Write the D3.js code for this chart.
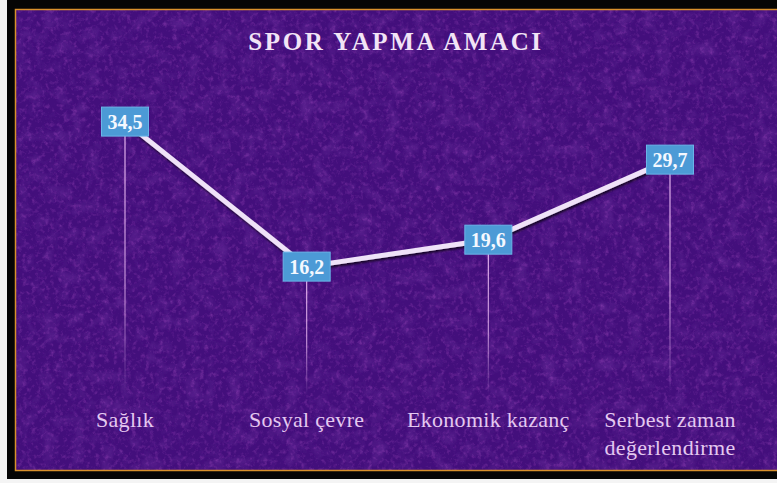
<!DOCTYPE html>
<html>
<head>
<meta charset="utf-8">
<script src="https://cdn.jsdelivr.net/npm/d3@7"></script>
<style>
  body { margin: 0; background: #f4f4f4; }
  svg { display: block; }
</style>
</head>
<body>
<div id="chart"></div>
<script>
// Spor yapma amacı - line chart with value boxes

var categories = ["Sağlık", "Sosyal çevre", "Ekonomik kazanç", "Serbest zaman\ndeğerlendirme"];
var values = [34.5, 16.2, 19.6, 29.7];
var valueLabels = ["34,5", "16,2", "19,6", "29,7"];
var title = "SPOR YAPMA AMACI";

var W = 777, H = 483;

var svg = d3.select("#chart").append("svg")
    .attr("width", W)
    .attr("height", H);

var defs = svg.append("defs");

// mottled texture for the purple background
function noiseFilter(id, freq, seed, matrix) {
    var f = defs.append("filter").attr("id", id)
        .attr("x", 0).attr("y", 0).attr("width", "100%").attr("height", "100%");
    f.append("feTurbulence")
        .attr("type", "fractalNoise")
        .attr("baseFrequency", freq)
        .attr("numOctaves", 4)
        .attr("seed", seed)
        .attr("result", "noise");
    f.append("feColorMatrix")
        .attr("in", "noise")
        .attr("type", "matrix")
        .attr("values", matrix)
        .attr("result", "spots");
    f.append("feComposite").attr("in", "spots").attr("in2", "SourceGraphic").attr("operator", "in");
}
// dark blotches
noiseFilter("texDark", 0.07, 3, "0 0 0 0 0.12  0 0 0 0 0.02  0 0 0 0 0.30  1.9 0 0 0 -0.85");
// reddish / bright speckle
noiseFilter("texLight", 0.22, 11, "0 0 0 0 0.50  0 0 0 0 0.10  0 0 0 0 0.62  0 0 1.6 0 -0.8");

var shadow = defs.append("filter").attr("id", "shadow");
shadow.append("feDropShadow").attr("dx", 1).attr("dy", 2).attr("stdDeviation", 1.2)
    .attr("flood-color", "#000").attr("flood-opacity", 0.7);

var fade = defs.append("linearGradient").attr("id", "fade")
    .attr("x1", 0).attr("y1", 0).attr("x2", 0).attr("y2", 1);
fade.append("stop").attr("offset", "0%").attr("stop-color", "#e6b4f0").attr("stop-opacity", 1);
fade.append("stop").attr("offset", "60%").attr("stop-color", "#e6b4f0").attr("stop-opacity", 0.75);
fade.append("stop").attr("offset", "100%").attr("stop-color", "#e6b4f0").attr("stop-opacity", 0);

// frame
svg.append("rect").attr("x", 7).attr("y", 0).attr("width", W - 7).attr("height", 479)
    .attr("fill", "#050505");
svg.append("rect").attr("x", 15).attr("y", 9).attr("width", W - 15).attr("height", 462)
    .attr("fill", "#430f7c");
svg.append("rect").attr("x", 15).attr("y", 9).attr("width", W - 15).attr("height", 462)
    .attr("fill", "#430f7c").attr("filter", "url(#texDark)").attr("opacity", 0.85);
svg.append("rect").attr("x", 15).attr("y", 9).attr("width", W - 15).attr("height", 462)
    .attr("fill", "#430f7c").attr("filter", "url(#texLight)").attr("opacity", 0.5);
svg.append("rect").attr("x", 15.5).attr("y", 9.5).attr("width", W).attr("height", 461)
    .attr("fill", "none").attr("stroke", "#d8902c").attr("stroke-width", 1.5);

// scales
var x = d3.scalePoint()
    .domain(categories)
    .range([125, 670]);

var y = d3.scaleLinear()
    .domain([0, 40])
    .range([395, 78]);

var g = svg.append("g");

// drop lines
g.selectAll("rect.drop")
    .data(values)
    .enter().append("rect")
    .attr("class", "drop")
    .attr("x", function(d, i) { return x(categories[i]) - 0.6; })
    .attr("y", function(d) { return y(d); })
    .attr("width", 1.2)
    .attr("height", function(d) { return y(0) - y(d); })
    .attr("fill", "url(#fade)");

// main line
var line = d3.line()
    .x(function(d, i) { return x(categories[i]); })
    .y(function(d) { return y(d); });

g.append("path")
    .datum(values)
    .attr("d", line)
    .attr("fill", "none")
    .attr("stroke", "#efe2f8")
    .attr("stroke-width", 5)
    .attr("stroke-linejoin", "round")
    .attr("filter", "url(#shadow)");

// value boxes
var boxW = 47, boxH = 29;
var boxes = g.selectAll("g.val")
    .data(values)
    .enter().append("g")
    .attr("class", "val")
    .attr("transform", function(d, i) {
        return "translate(" + x(categories[i]) + "," + y(d) + ")";
    });

boxes.append("rect")
    .attr("x", -boxW / 2)
    .attr("y", -boxH / 2)
    .attr("width", boxW)
    .attr("height", boxH)
    .attr("fill", "#4c9ad6")
    .attr("stroke", "#6ab4e8")
    .attr("stroke-width", 1);

boxes.append("text")
    .attr("text-anchor", "middle")
    .attr("dy", "0.36em")
    .attr("fill", "#f4f8ff")
    .style("font-family", "'Liberation Serif', 'Times New Roman', serif")
    .style("font-weight", "bold")
    .style("font-size", "20px")
    .text(function(d, i) { return valueLabels[i]; });

// category labels
var labels = g.selectAll("text.cat")
    .data(categories)
    .enter().append("text")
    .attr("class", "cat")
    .attr("x", function(d) { return x(d); })
    .attr("y", 427)
    .attr("text-anchor", "middle")
    .attr("fill", "#e4c8f0")
    .style("font-family", "'Liberation Serif', 'Times New Roman', serif")
    .style("font-size", "22px")
    .style("letter-spacing", "0.3px");

labels.each(function(d) {
    var t = d3.select(this);
    d.split("\n").forEach(function(part, k) {
        t.append("tspan")
            .attr("x", x(d))
            .attr("dy", k === 0 ? 0 : 28)
            .text(part);
    });
});

// title
svg.append("text")
    .attr("x", 396)
    .attr("y", 50)
    .attr("text-anchor", "middle")
    .attr("fill", "#f2e4f6")
    .style("font-family", "'Liberation Serif', 'Times New Roman', serif")
    .style("font-weight", "bold")
    .style("font-size", "25px")
    .style("letter-spacing", "2.6px")
    .text(title);
</script>
</body>
</html>
